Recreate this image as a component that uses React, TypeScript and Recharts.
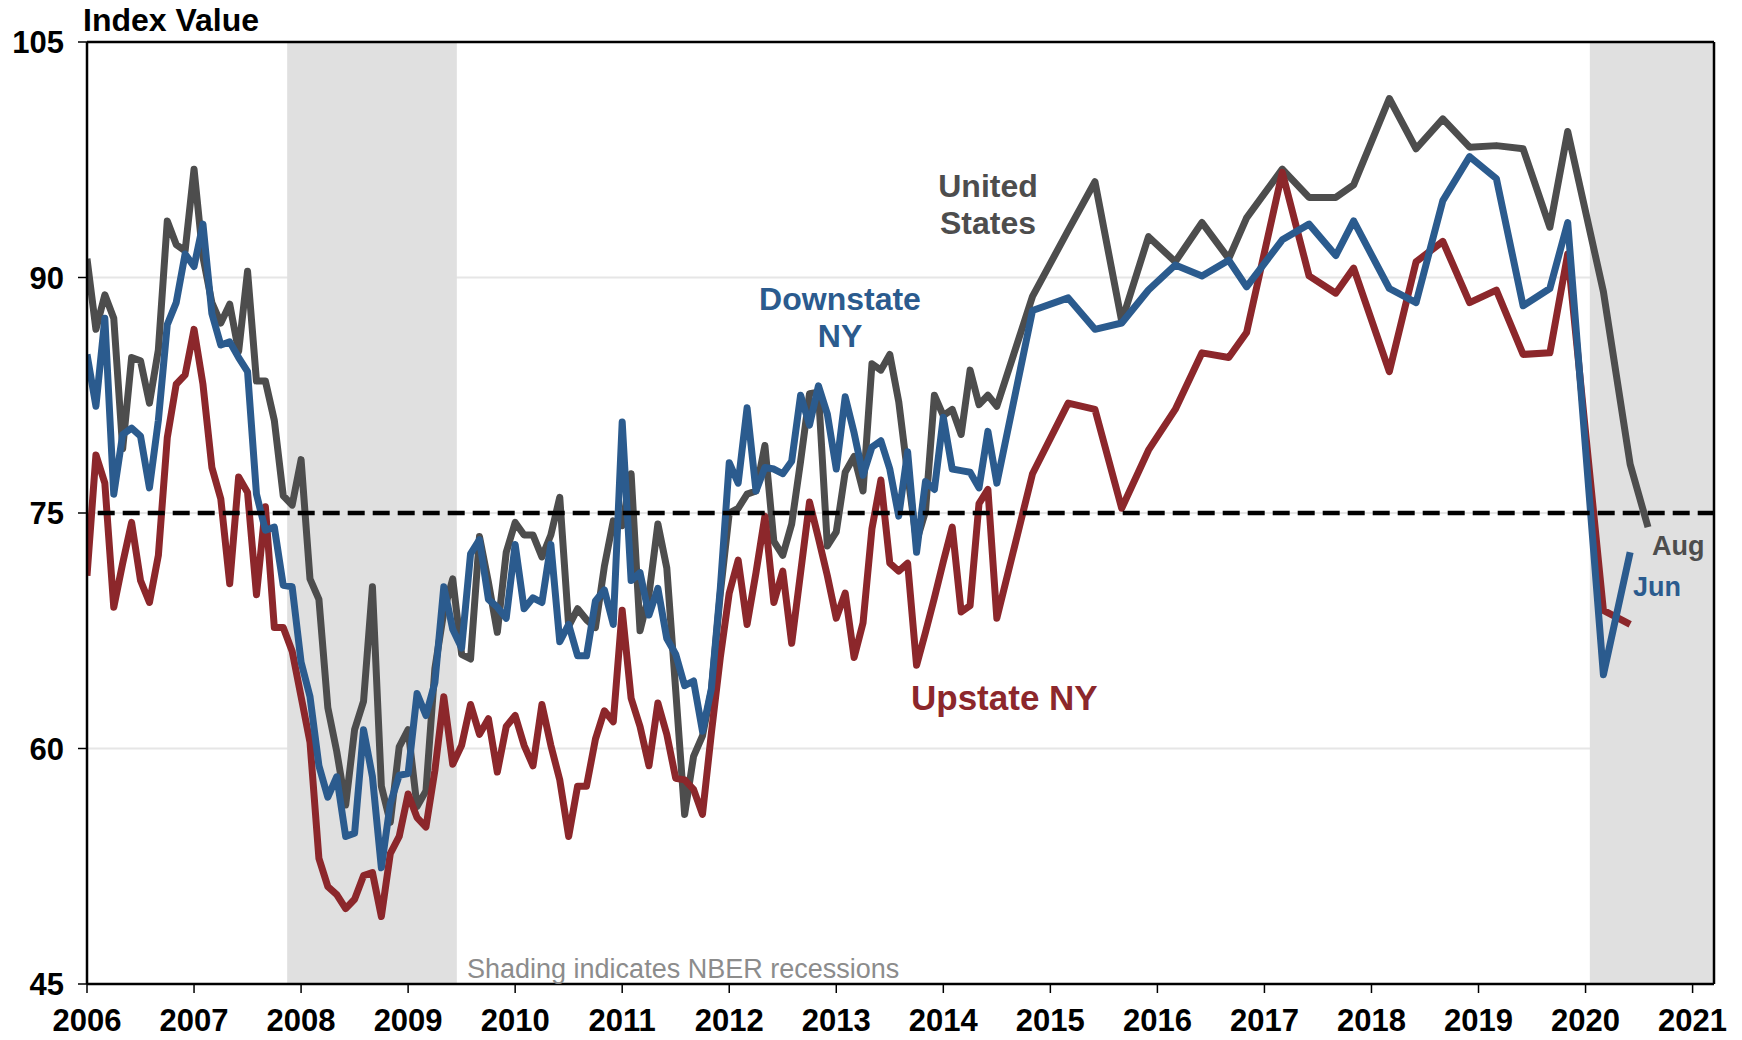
import { LineChart, Line, XAxis, YAxis, CartesianGrid, ReferenceArea, ReferenceLine } from 'recharts';

// x axis years and y axis values
const YEAR_TICKS = [2006, 2007, 2008, 2009, 2010, 2011, 2012, 2013, 2014, 2015, 2016, 2017, 2018, 2019, 2020, 2021];
const VALUE_TICKS = [45, 60, 75, 90, 105];

// monthly readings, Jan 2006 - Jul 2014
const US_MONTHLY = [
    91.2, 86.7, 88.9, 87.4, 79.1, 84.9, 84.7, 82.0, 85.4, 93.6, 92.1, 91.7,
    96.9, 91.3, 88.4, 87.1, 88.3, 85.3, 90.4, 83.4, 83.4, 80.9, 76.1, 75.5,
    78.4, 70.8, 69.5, 62.6, 59.8, 56.4, 61.2, 63.0, 70.3, 57.6, 55.3, 60.1,
    61.2, 56.3, 57.3, 65.1, 68.7, 70.8, 66.0, 65.7, 73.5, 70.6, 67.4, 72.5,
    74.4, 73.6, 73.6, 72.2, 73.6, 76.0, 67.8, 68.9, 68.2, 67.7, 71.6, 74.5,
    74.2, 77.5, 67.5, 69.8, 74.3, 71.5, 63.7, 55.8, 59.5, 60.8, 63.7, 69.9,
    75.0, 75.3, 76.2, 76.4, 79.3, 73.2, 72.3, 74.3, 78.3, 82.6, 82.7, 72.9,
    73.8, 77.6, 78.6, 76.4, 84.5, 84.1, 85.1, 82.1, 77.5, 73.2, 75.1, 82.5,
    81.2, 81.6, 80.0, 84.1, 81.9, 82.5, 81.8,
];

const DOWNSTATE_MONTHLY = [
    85.1, 81.8, 87.4, 76.2, 80.0, 80.4, 79.9, 76.6, 80.9, 87.0, 88.4, 91.5,
    90.7, 93.4, 87.7, 85.7, 85.9, 84.9, 84.0, 76.2, 73.9, 74.1, 70.4, 70.3,
    65.5, 63.3, 58.9, 56.9, 58.2, 54.4, 54.6, 61.2, 58.2, 52.4, 56.5, 58.3,
    58.4, 63.5, 62.1, 64.2, 70.3, 67.6, 66.4, 72.4, 73.3, 69.5, 69.0, 68.3,
    73.0, 68.9, 69.6, 69.3, 73.0, 66.8, 67.9, 65.9, 65.9, 69.4, 70.1, 67.9,
    80.8, 70.7, 71.2, 68.5, 70.2, 67.0, 66.0, 64.0, 64.3, 61.1, 63.8, 70.2,
    78.2, 76.9, 81.7, 76.4, 77.9, 77.8, 77.5, 78.3, 82.5, 80.6, 83.1, 81.3,
    77.8, 82.4, 80.1, 77.4, 79.2, 79.6, 77.8, 74.8, 78.9, 72.5, 77.0, 76.5,
    81.1, 77.8, 77.7, 77.6, 76.6, 80.2, 76.9,
];

const UPSTATE_MONTHLY = [
    71.0, 78.7, 76.9, 69.0, 71.8, 74.4, 70.7, 69.3, 72.3, 79.8, 83.2, 83.8,
    86.7, 83.2, 77.9, 75.9, 70.5, 77.3, 76.3, 69.8, 75.4, 67.7, 67.7, 66.2,
    63.3, 60.4, 53.0, 51.2, 50.7, 49.8, 50.4, 51.9, 52.1, 49.3, 53.3, 54.4,
    57.1, 55.6, 55.0, 58.6, 63.3, 59.0, 60.2, 62.8, 60.9, 61.9, 58.5, 61.4,
    62.1, 60.2, 58.9, 62.8, 60.2, 58.0, 54.4, 57.6, 57.6, 60.6, 62.4, 61.7,
    68.8, 63.2, 61.4, 58.9, 62.9, 60.9, 58.1, 58.0, 57.4, 55.8, 61.0, 65.8,
    69.9, 72.0, 67.9, 71.2, 74.8, 69.3, 71.3, 66.7, 71.2, 75.7, 73.4, 71.0,
    68.3, 69.9, 65.8, 68.0, 74.0, 77.1, 71.8, 71.3, 71.8, 65.3, 67.4, 69.6,
    71.9, 74.1, 68.7, 69.1, 75.6, 76.5, 68.3,
];

// survey dates after mid-2014
const SURVEY_DATES = [
    '2014-11', '2015-03', '2015-06', '2015-09', '2015-12', '2016-03', '2016-06', '2016-09',
    '2016-11', '2017-03', '2017-06', '2017-09', '2017-11', '2018-03', '2018-06', '2018-09',
    '2018-12', '2019-03', '2019-06', '2019-09', '2019-11', '2020-03', '2020-06',
];
const US_SURVEY = [
    88.8, 93.0, 96.1, 87.2, 92.6, 91.0, 93.5, 91.2,
    93.8, 96.9, 95.1, 95.1, 95.9, 101.4, 98.2, 100.1,
    98.3, 98.4, 98.2, 93.2, 99.3, 89.1, 78.1,
];
const DOWNSTATE_SURVEY = [
    87.9, 88.7, 86.7, 87.1, 89.2, 90.8, 90.1, 91.1,
    89.4, 92.4, 93.4, 91.4, 93.6, 89.3, 88.4, 94.9,
    97.7, 96.3, 88.2, 89.3, 93.5, 64.7, 72.5,
];
const UPSTATE_SURVEY = [
    77.5, 82.0, 81.6, 75.3, 79.0, 81.6, 85.2, 84.9,
    86.5, 96.7, 90.1, 89.0, 90.6, 84.0, 91.0, 92.3,
    88.4, 89.2, 85.1, 85.2, 91.5, 68.8, 67.9,
];
const US_LATEST_DATES = ['2020-08'];
const US_LATEST = [74.1];

const RECESSIONS = [
    [2007.87, 2009.455],
    [2020.04, 2021.2],
];

const X_MAX = 2021.2;
const FONT = '"Liberation Sans", Arial, sans-serif';
const GRAY = '#4d4d4d';
const BLUE = '#2b5b8e';
const RED = '#8c272b';

const toYear = (d: string) => {
    const [y, m] = d.split('-').map(Number);
    return y + (m - 1) / 12;
};

function buildSeries(monthly: number[], dates: string[], values: number[]) {
    const pts = monthly.map((v, i) => ({ t: 2006 + i / 12, v }));
    dates.forEach((d, i) => pts.push({ t: toYear(d), v: values[i] }));
    return pts;
}

const usData = [
    ...buildSeries(US_MONTHLY, SURVEY_DATES, US_SURVEY),
    ...US_LATEST_DATES.map((d, i) => ({ t: toYear(d), v: US_LATEST[i] })),
];
const downstateData = buildSeries(DOWNSTATE_MONTHLY, SURVEY_DATES, DOWNSTATE_SURVEY);
const upstateData = buildSeries(UPSTATE_MONTHLY, SURVEY_DATES, UPSTATE_SURVEY);

const XTick = ({ x, y, payload }: any) => (
    <text x={x} y={y} dy={38} textAnchor="middle" fontSize={31} fontWeight="bold" fill="#000" fontFamily={FONT}>
        {payload.value}
    </text>
);

const YTick = ({ x, y, payload }: any) => (
    <text x={x} y={y} dy={11} textAnchor="end" fontSize={31} fontWeight="bold" fill="#000" fontFamily={FONT}>
        {payload.value}
    </text>
);

// multi-line labels sit in one block, centred on (left, top)
const label = (lines: string[], left: number, top: number, color: string, size: number, center = true, weight = 'bold', lh: number | string = 1) => (
    <div
        style={{
            position: 'absolute',
            left,
            top,
            transform: center ? 'translate(-50%, -50%)' : 'translate(0, -50%)',
            color,
            fontSize: size,
            fontWeight: weight as any,
            lineHeight: lh,
            whiteSpace: 'nowrap',
            textAlign: 'center',
        }}
    >
        {lines.map((l, i) => (
            <div key={i}>{l}</div>
        ))}
    </div>
);

export default function App() {
    return (
        <div style={{ position: 'absolute', left: 0, top: 0, width: 1742, height: 1040, background: '#fff', fontFamily: FONT }}>
            <LineChart width={1742} height={1040} data={usData} margin={{ top: 42, right: 28, left: 0, bottom: 0 }}>
                {RECESSIONS.map(([a, b], i) => (
                    <ReferenceArea key={`rec-${i}`} x1={a} x2={b} y1={45} y2={105} fill="#e0e0e0" fillOpacity={1} stroke="none" />
                ))}
                <CartesianGrid vertical={false} stroke="#e6e6e6" strokeWidth={2} />
                <XAxis
                    dataKey="t"
                    type="number"
                    domain={[2006, X_MAX]}
                    ticks={YEAR_TICKS}
                    allowDataOverflow
                    height={56}
                    tickSize={9}
                    tickMargin={0}
                    axisLine={{ stroke: '#000', strokeWidth: 2.5 }}
                    tickLine={{ stroke: '#000', strokeWidth: 1.5 }}
                    tick={<XTick />}
                />
                <YAxis
                    type="number"
                    domain={[45, 105]}
                    ticks={VALUE_TICKS}
                    width={87}
                    tickSize={9}
                    tickMargin={14}
                    axisLine={{ stroke: '#000', strokeWidth: 2.5 }}
                    tickLine={{ stroke: '#000', strokeWidth: 1.5 }}
                    tick={<YTick />}
                />
                <ReferenceLine y={105} stroke="#000" strokeWidth={2.5} />
                <ReferenceLine x={X_MAX} stroke="#000" strokeWidth={2.5} />
                <Line data={usData} dataKey="v" type="linear" stroke={GRAY} strokeWidth={7} dot={false} strokeLinejoin="round" isAnimationActive={false} />
                <Line data={upstateData} dataKey="v" type="linear" stroke={RED} strokeWidth={7} dot={false} strokeLinejoin="round" isAnimationActive={false} />
                <Line data={downstateData} dataKey="v" type="linear" stroke={BLUE} strokeWidth={7} dot={false} strokeLinejoin="round" isAnimationActive={false} />
                <ReferenceLine
                    segment={[{ x: 2006.1, y: 75 }, { x: X_MAX, y: 75 }]}
                    stroke="#000"
                    strokeWidth={4.5}
                    strokeDasharray="17 8"
                />
            </LineChart>

            {label(['Index Value'], 83, 20, '#000', 32, false)}
            {label(['United', 'States'], 988, 205, GRAY, 32, true, 'bold', '37px')}
            {label(['Downstate', 'NY'], 840, 318, BLUE, 32, true, 'bold', '37px')}
            {label(['Upstate NY'], 911, 697, RED, 35, false)}
            {label(['Aug'], 1652, 546, GRAY, 27, false)}
            {label(['Jun'], 1633, 587, BLUE, 27, false)}
            {label(['Shading indicates NBER recessions'], 467, 969, '#8c8c8c', 27, false, 'normal')}
        </div>
    );
}
